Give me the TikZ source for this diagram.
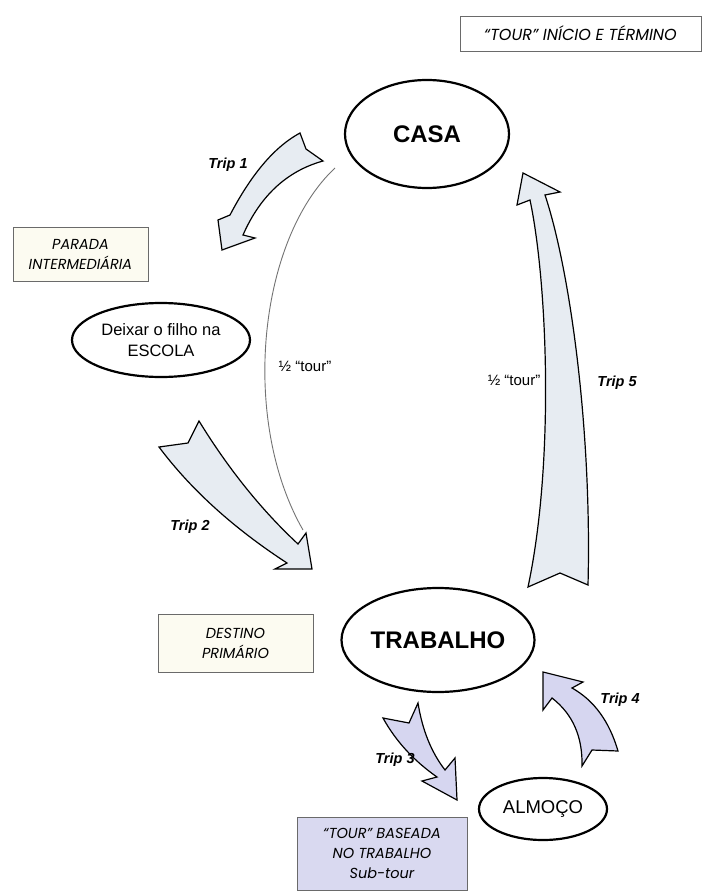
\documentclass[tikz,border=0pt]{standalone}
\usepackage{fontspec}
\setmainfont{Liberation Sans}
\newfontfamily\gothic{Poppins}
\usetikzlibrary{shapes.geometric}

\definecolor{arrowgray}{HTML}{E7ECF2}
\definecolor{arrowlav}{HTML}{D6D6F0}
\definecolor{boxcream}{HTML}{FCFBF1}
\definecolor{boxlav}{HTML}{D9D9F0}
\definecolor{boxedge}{HTML}{6A6A6A}

\tikzset{
  place/.style={ellipse, draw=black, line width=2.2pt, fill=white, inner sep=0pt, align=center},
  infobox/.style={rectangle, draw=boxedge, line width=0.9pt, inner sep=0pt, align=center,
    font=\gothic\itshape\fontsize{14.5}{20}\selectfont},
  blockarrow/.style={draw=black, line width=1.2pt, line join=miter},
  triplabel/.style={font=\bfseries\itshape\fontsize{14.5}{16}\selectfont},
  halflabel/.style={font=\fontsize{15}{17}\selectfont},
  halfline/.style={draw=black!55, line width=0.9pt}
}

\begin{document}
\begin{tikzpicture}[x=1pt,y=-1pt]
\useasboundingbox (0,0) rectangle (702,893);

% places
\node[place, minimum width=164pt, minimum height=108pt, font=\bfseries\fontsize{24}{26}\selectfont]
  (casa) at (427,134) {CASA};
\node[place, minimum width=193pt, minimum height=104pt, font=\bfseries\fontsize{24}{26}\selectfont]
  (trabalho) at (438,640) {TRABALHO};
\node[place, minimum width=178pt, minimum height=74pt, font=\fontsize{16.5}{21}\selectfont]
  (escola) at (161,340) {Deixar o filho na\\ESCOLA};
\node[place, minimum width=128pt, minimum height=62pt, font=\fontsize{18.5}{20}\selectfont]
  (almoco) at (543,809) {ALMOÇO};

% caption boxes
\node[infobox, fill=white, minimum width=241pt, minimum height=35pt,
  font=\gothic\itshape\fontsize{16}{20}\selectfont] (tourbox) at (580.5,33.5)
  {“TOUR” INÍCIO E TÉRMINO};
\node[infobox, fill=boxcream, minimum width=135pt, minimum height=54pt] (parada) at (80.5,254)
  {PARADA\\INTERMEDIÁRIA};
\node[infobox, fill=boxcream, minimum width=155pt, minimum height=58pt] (destino) at (235.5,643)
  {DESTINO\\PRIMÁRIO};
\node[infobox, fill=boxlav, minimum width=170pt, minimum height=73pt] (subtour) at (382,853.5)
  {“TOUR” BASEADA\\NO TRABALHO\\Sub-tour};

% half tour, outbound: thin line into the head of trip 2
\coordinate (halfstart) at (335,168);
\coordinate (halfend) at (303,530);
\path[halfline] (halfstart) .. controls (258,240) and (240,420) .. (halfend);

% trip 1: home -> school
\filldraw[blockarrow, fill=arrowgray]
  (300,133) .. controls (275.3,146.3) and (252,173) .. (230,215) -- (218,220) -- (222,250)
  -- (255,238) -- (243,235) .. controls (260.3,195.7) and (287,171) .. (323,161) -- (306,149) -- cycle;

% trip 2: school -> work
\filldraw[blockarrow, fill=arrowgray]
  (159,447) .. controls (191,489.7) and (233.7,528.3) .. (287,563) -- (275,569) -- (312,569)
  -- (306,533) -- (298,544) .. controls (261.7,510.3) and (228.7,469.3) .. (199,421) -- (188,443) -- cycle;

% trip 3: work -> lunch
\filldraw[blockarrow, fill=arrowlav]
  (383,718) .. controls (395.7,741) and (413.7,760.7) .. (437,777) -- (422,781) -- (457,800)
  -- (455,758) -- (445,770) .. controls (431.3,752.3) and (422.3,730) .. (418,703) -- (409,723) -- cycle;

% trip 4: lunch -> work
\filldraw[blockarrow, fill=arrowlav]
  (582,766) .. controls (582.7,736.7) and (572.7,714) .. (552,698) -- (543,710) -- (543,672)
  -- (583,682) -- (572,688) .. controls (594,700.3) and (609.3,721.3) .. (618,751) -- (592,750) -- cycle;

% trip 5: work -> home
\filldraw[blockarrow, fill=arrowgray]
  (528,587) .. controls (555,460) and (547,280) .. (530,200) -- (517,205) -- (523,173)
  -- (560,192) -- (545,195) .. controls (570,270) and (592,430) .. (588,585) -- (560,573) -- cycle;

% labels
\node[triplabel] (t1) at (228,165) {Trip 1};
\node[triplabel] (t2) at (190,527) {Trip 2};
\node[triplabel] (t3) at (395,760) {Trip 3};
\node[triplabel] (t4) at (620,700) {Trip 4};
\node[triplabel] (t5) at (617,383) {Trip 5};
\node[halflabel] (h1) at (305,366) {½ “tour”};
\node[halflabel] (h2) at (514,380) {½ “tour”};
\end{tikzpicture}
\end{document}
